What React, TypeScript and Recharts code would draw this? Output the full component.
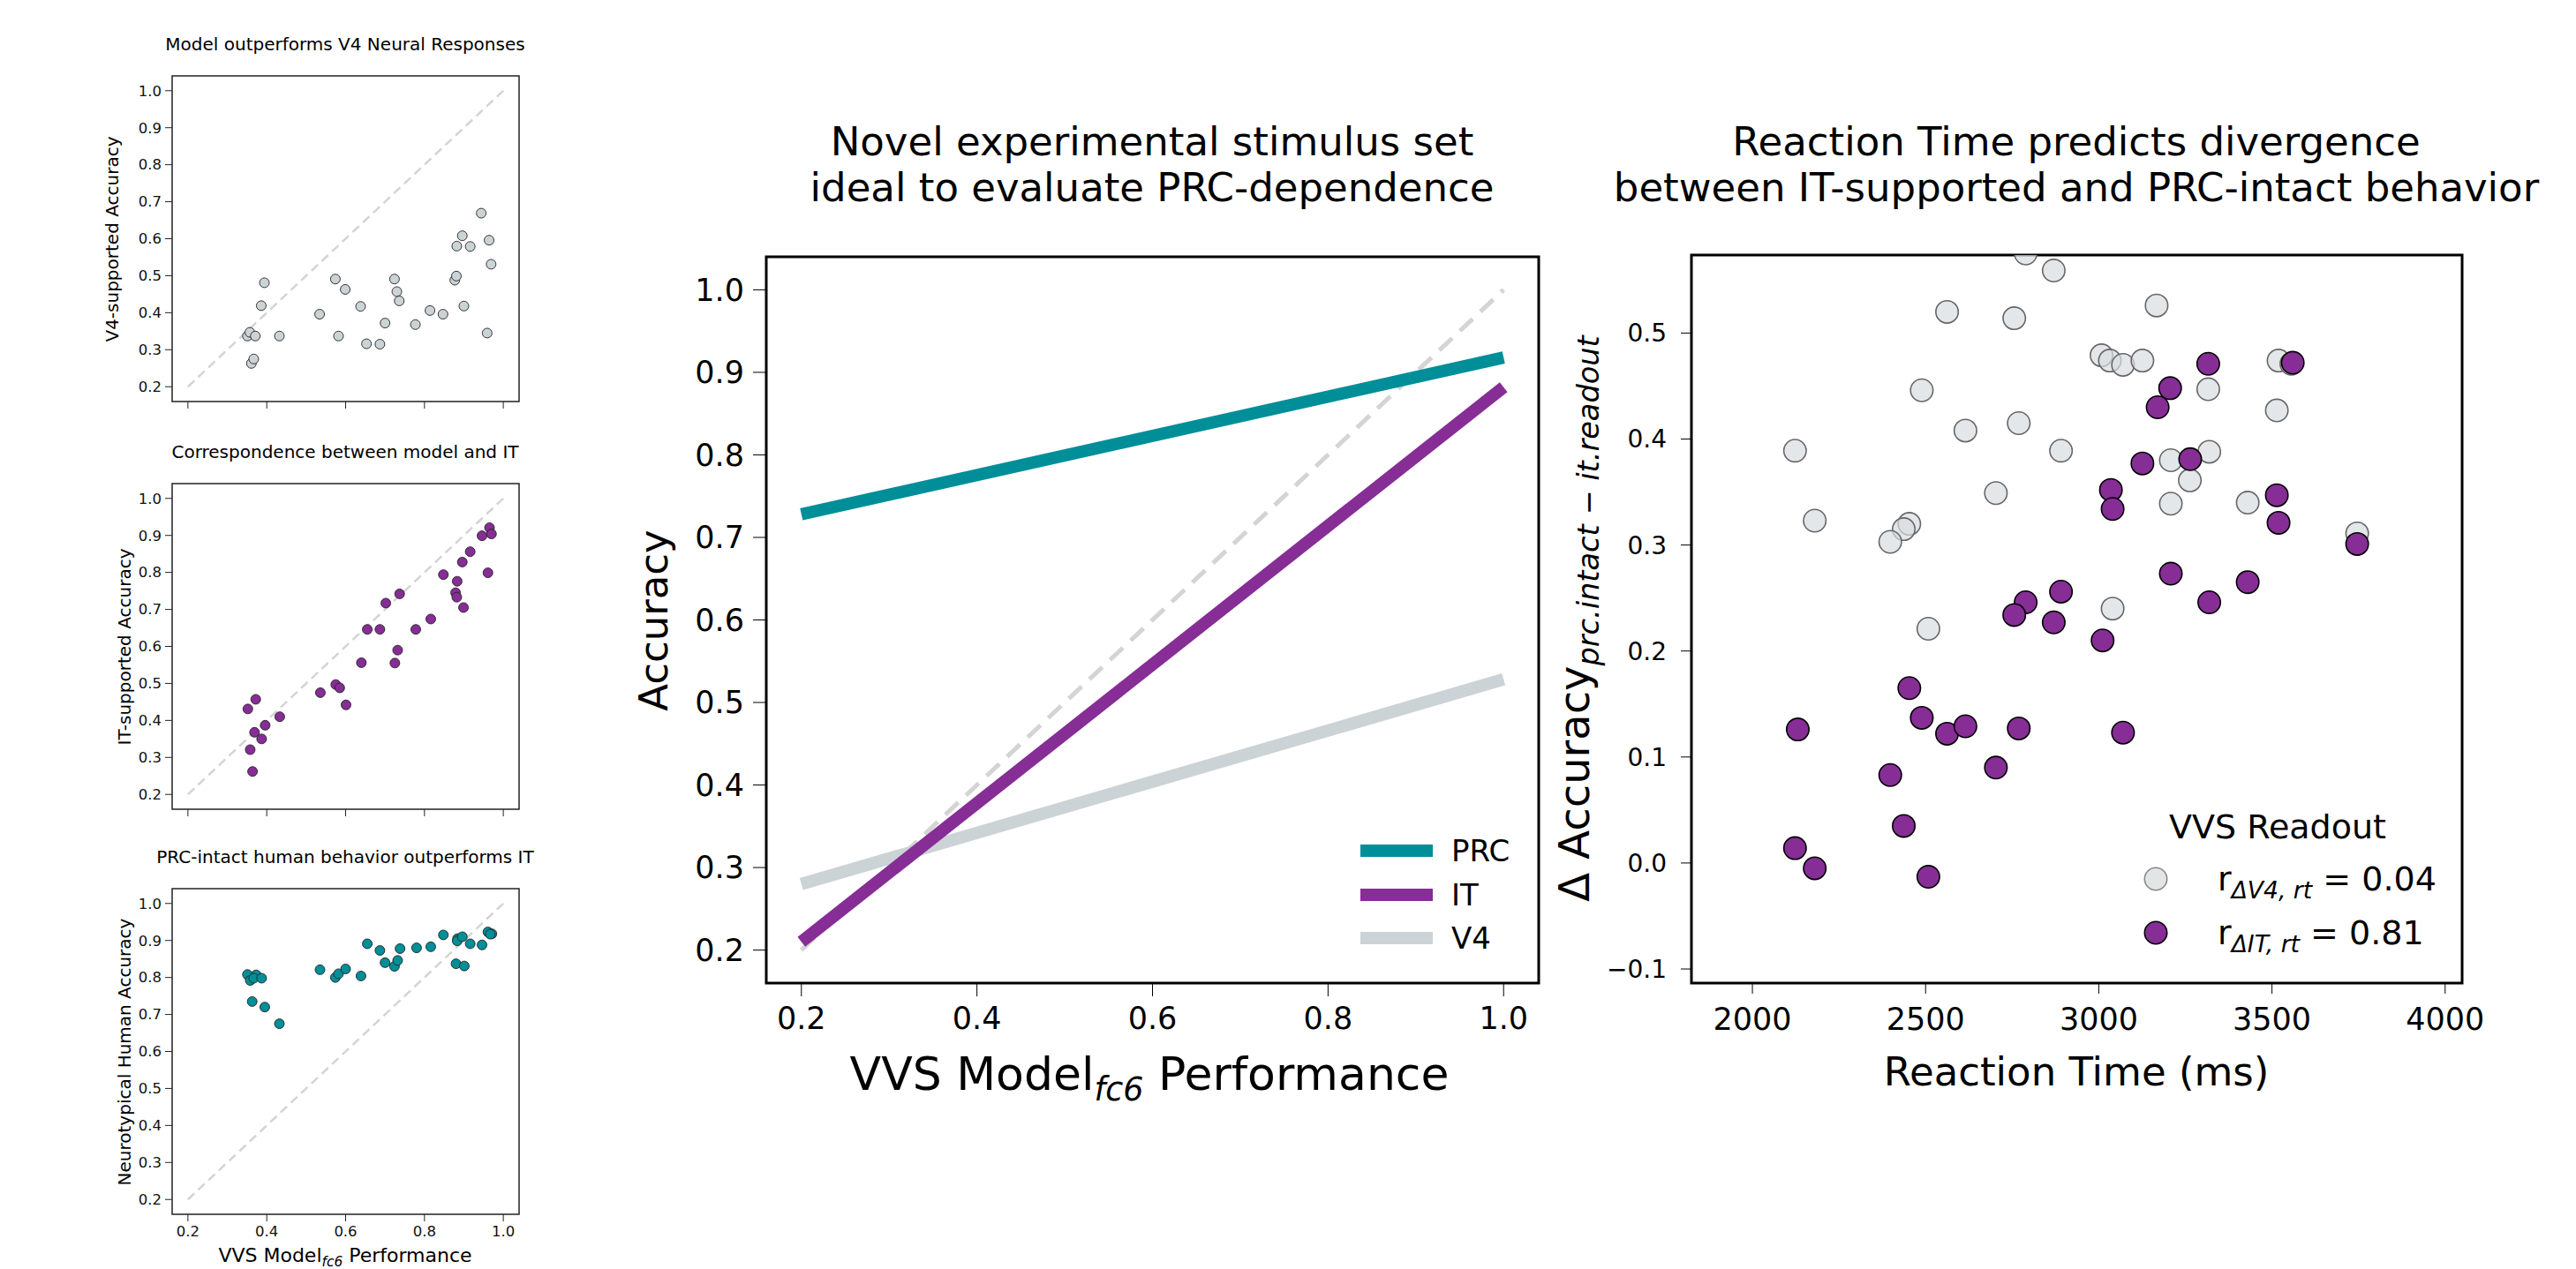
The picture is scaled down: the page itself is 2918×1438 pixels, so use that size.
import { ScatterChart, Scatter, LineChart, Line, XAxis, YAxis, ReferenceArea } from "recharts"

const FONT = "DejaVu Sans"

// left column: VVS model performance vs readout accuracy, one array pair per panel
const v4Perf = [0.351, 0.357, 0.371, 0.361, 0.367, 0.394, 0.386, 0.432, 0.534, 0.574, 0.582, 0.599, 0.638, 0.653, 0.687, 0.7, 0.724, 0.73, 0.736, 0.777, 0.814, 0.847, 0.877, 0.881, 0.882, 0.896, 0.9, 0.916, 0.944, 0.964, 0.969, 0.959]
const v4Acc = [0.337, 0.347, 0.337, 0.263, 0.275, 0.481, 0.419, 0.337, 0.396, 0.491, 0.337, 0.463, 0.417, 0.316, 0.315, 0.372, 0.491, 0.457, 0.432, 0.368, 0.406, 0.396, 0.488, 0.499, 0.58, 0.608, 0.418, 0.579, 0.669, 0.596, 0.531, 0.345]

const itPerf = [0.352, 0.372, 0.358, 0.364, 0.369, 0.387, 0.396, 0.433, 0.536, 0.575, 0.585, 0.601, 0.64, 0.655, 0.687, 0.702, 0.725, 0.732, 0.737, 0.778, 0.816, 0.848, 0.879, 0.882, 0.883, 0.899, 0.896, 0.916, 0.946, 0.965, 0.97, 0.961]
const itAcc = [0.431, 0.457, 0.321, 0.262, 0.368, 0.35, 0.387, 0.41, 0.475, 0.497, 0.488, 0.442, 0.556, 0.646, 0.646, 0.717, 0.555, 0.59, 0.742, 0.646, 0.674, 0.794, 0.745, 0.733, 0.776, 0.705, 0.828, 0.856, 0.899, 0.921, 0.904, 0.799]

const prcPerf = [0.351, 0.358, 0.373, 0.367, 0.387, 0.363, 0.395, 0.432, 0.535, 0.574, 0.582, 0.6, 0.639, 0.655, 0.687, 0.7, 0.724, 0.732, 0.738, 0.78, 0.816, 0.848, 0.88, 0.884, 0.883, 0.896, 0.901, 0.916, 0.946, 0.961, 0.971, 0.967]
const prcAcc = [0.808, 0.792, 0.807, 0.798, 0.798, 0.735, 0.72, 0.675, 0.821, 0.8, 0.81, 0.823, 0.804, 0.891, 0.873, 0.84, 0.83, 0.846, 0.878, 0.88, 0.883, 0.915, 0.837, 0.905, 0.899, 0.91, 0.831, 0.891, 0.888, 0.923, 0.918, 0.917]

// middle: fitted lines at the ends of the performance range
const fitX = [0.2, 1.0]
const prcFit = [0.728, 0.918]
const itFit = [0.21, 0.882]
const v4Fit = [0.28, 0.528]

// right: reaction time vs accuracy difference
const rtV4 = [2789, 2870, 2562, 2756, 3167, 3008, 3032, 3070, 3126, 3519, 3556, 2489, 3316, 3514, 2615, 2769, 2123, 2891, 3208, 3319, 3263, 2703, 3208, 3430, 2180, 2453, 2437, 2398, 3746, 3040, 2508]
const deltaV4 = [0.575, 0.559, 0.52, 0.514, 0.526, 0.479, 0.474, 0.47, 0.474, 0.474, 0.471, 0.446, 0.447, 0.427, 0.408, 0.415, 0.389, 0.389, 0.38, 0.388, 0.361, 0.349, 0.339, 0.34, 0.323, 0.32, 0.315, 0.303, 0.311, 0.24, 0.221]
const rtIT = [3316, 3560, 3206, 3170, 3126, 3264, 3035, 3040, 3514, 3519, 3746, 3208, 3430, 2891, 2789, 2756, 2870, 3319, 3011, 2453, 2489, 2562, 2615, 2769, 2131, 3070, 2703, 2398, 2437, 2123, 2180, 2508]
const deltaIT = [0.471, 0.472, 0.448, 0.43, 0.377, 0.381, 0.352, 0.334, 0.347, 0.321, 0.301, 0.273, 0.265, 0.256, 0.246, 0.234, 0.227, 0.246, 0.21, 0.165, 0.137, 0.122, 0.129, 0.127, 0.126, 0.123, 0.09, 0.083, 0.035, 0.014, -0.005, -0.013]

const accTicks = [0.2, 0.3, 0.4, 0.5, 0.6, 0.7, 0.8, 0.9, 1.0]
const perfTicks = [0.2, 0.4, 0.6, 0.8, 1.0]
const rtTicks = [2000, 2500, 3000, 3500, 4000]
const deltaTicks = [-0.1, 0, 0.1, 0.2, 0.3, 0.4, 0.5]

const PURPLE = "#862d96"
const TEAL = "#008e98"
const V4GRAY = "#cbd3d6"
const DIAG = "#d4d4d4"

const fmt1 = (v: number) => (v < 0 ? "\u2212" + Math.abs(v).toFixed(1) : v.toFixed(1))
const zip = (xs: number[], ys: number[]) => xs.map((x, i) => ({ x, y: ys[i] }))
const diagRows = zip(fitX, fitX)

const dot = (r: number, fill: string, stroke: string, sw: number, op = 1) => (p: any) => (
  <circle cx={p.cx} cy={p.cy} r={r} fill={fill} fillOpacity={op} stroke={stroke} strokeWidth={sw} />
)
const noShape = () => <g />

function Text({ x, y, size, rotate, children }: any) {
  return (
    <div
      style={{
        position: "absolute",
        left: x,
        top: y,
        transform: `translate(-50%, -50%)${rotate ? " rotate(-90deg)" : ""}`,
        fontSize: size,
        fontFamily: FONT,
        lineHeight: 1,
        whiteSpace: "nowrap",
        color: "#000",
      }}
    >
      {children}
    </div>
  )
}

const Sub = ({ children }: any) => (
  <span style={{ fontSize: "0.7em", fontStyle: "italic", position: "relative", top: "0.32em" }}>{children}</span>
)

function SmallPanel({ top, xs, ys, color, title, yLabel, labelX, showX }: any) {
  const YW = 70
  const PT = 10
  const PR = 20
  const XH = 40
  const W = 393
  const H = 369
  return (
    <>
      <div style={{ position: "absolute", left: 195 - YW, top: top - PT }}>
        <ScatterChart width={W + YW + PR} height={H + PT + XH} margin={{ top: PT, right: PR, left: 0, bottom: 0 }}>
          <XAxis type="number" dataKey="x" domain={[0.16, 1.04]} allowDataOverflow ticks={perfTicks} interval={0}
            height={XH} axisLine={false} stroke="#222" tickSize={8} tickMargin={5}
            tick={{ fontSize: 16.5, fill: "#111", fontFamily: FONT }} tickFormatter={showX ? fmt1 : () => ""} />
          <YAxis type="number" dataKey="y" domain={[0.16, 1.04]} allowDataOverflow ticks={accTicks} interval={0}
            width={YW} axisLine={false} stroke="#222" tickSize={8} tickMargin={4}
            tick={{ fontSize: 16.5, fill: "#111", fontFamily: FONT }} tickFormatter={fmt1} />
          <ReferenceArea x1={0.16} x2={1.04} y1={0.16} y2={1.04} fill="none" stroke="#222" strokeWidth={1.5} fillOpacity={0} />
          <Scatter data={diagRows} shape={noShape} line={{ stroke: DIAG, strokeWidth: 2.5, strokeDasharray: "10 6" }} isAnimationActive={false} />
          <Scatter data={zip(xs, ys)} shape={dot(5.5, color, "#222", 0.9)} isAnimationActive={false} />
        </ScatterChart>
      </div>
      <Text x={391} y={top - 36} size={20}>{title}</Text>
      <Text x={labelX} y={top + H / 2} size={20} rotate>{yLabel}</Text>
    </>
  )
}

function MiddlePanel() {
  const L = 868, T = 291, W = 875, H = 823
  const YW = 110, PT = 10, PR = 20, XH = 70
  const rows = fitX.map((x, i) => ({ x, diag: x, prc: prcFit[i], it: itFit[i], v4: v4Fit[i] }))
  const legend = [
    { name: "PRC", color: TEAL, y: 964 },
    { name: "IT", color: PURPLE, y: 1014 },
    { name: "V4", color: V4GRAY, y: 1063 },
  ]
  return (
    <>
      <div style={{ position: "absolute", left: L - YW, top: T - PT }}>
        <LineChart width={W + YW + PR} height={H + PT + XH} data={rows} margin={{ top: PT, right: PR, left: 0, bottom: 0 }}>
          <XAxis type="number" dataKey="x" domain={[0.16, 1.04]} allowDataOverflow ticks={perfTicks} interval={0}
            height={XH} axisLine={false} stroke="#000" tickSize={15} tickMargin={12}
            tick={{ fontSize: 35, fill: "#000", fontFamily: FONT }} tickFormatter={fmt1} />
          <YAxis type="number" domain={[0.16, 1.04]} allowDataOverflow ticks={accTicks} interval={0}
            width={YW} axisLine={false} stroke="#000" tickSize={15} tickMargin={10}
            tick={{ fontSize: 35, fill: "#000", fontFamily: FONT }} tickFormatter={fmt1} />
          <ReferenceArea x1={0.16} x2={1.04} y1={0.16} y2={1.04} fill="none" fillOpacity={0} stroke="#000" strokeWidth={3} />
          <Line dataKey="diag" stroke={DIAG} strokeWidth={5} strokeDasharray="20 12" dot={false} isAnimationActive={false} />
          <Line dataKey="v4" stroke={V4GRAY} strokeWidth={14} dot={false} isAnimationActive={false} />
          <Line dataKey="it" stroke={PURPLE} strokeWidth={14} dot={false} isAnimationActive={false} />
          <Line dataKey="prc" stroke={TEAL} strokeWidth={14} dot={false} isAnimationActive={false} />
        </LineChart>
      </div>
      <Text x={1305} y={160} size={45}>Novel experimental stimulus set</Text>
      <Text x={1305} y={212} size={45}>ideal to evaluate PRC-dependence</Text>
      <Text x={740} y={703} size={45} rotate>Accuracy</Text>
      <Text x={1302} y={1217} size={52}>VVS Model<Sub>fc6</Sub> Performance</Text>
      {legend.map((e) => (
        <div key={e.name}>
          <div style={{ position: "absolute", left: 1541, top: e.y - 7, width: 82, height: 14, background: e.color }} />
          <div style={{ position: "absolute", left: 1644, top: e.y, transform: "translateY(-50%)", fontSize: 34, fontFamily: FONT, lineHeight: 1 }}>{e.name}</div>
        </div>
      ))}
    </>
  )
}

function RightPanel() {
  const L = 1916, T = 289, W = 873, H = 825
  const YW = 100, PT = 10, PR = 70, XH = 70
  const items = [
    { sub: "\u0394V4, rt", val: "0.04", fill: "#e2e5e6", stroke: "#888", y: 996 },
    { sub: "\u0394IT, rt", val: "0.81", fill: PURPLE, stroke: "#000", y: 1057 },
  ]
  return (
    <>
      <div style={{ position: "absolute", left: L - YW, top: T - PT }}>
        <ScatterChart width={W + YW + PR} height={H + PT + XH} margin={{ top: PT, right: PR, left: 0, bottom: 0 }}>
          <XAxis type="number" dataKey="x" domain={[1824, 4049]} allowDataOverflow ticks={rtTicks} interval={0}
            height={XH} axisLine={false} stroke="#000" tickSize={12} tickMargin={16}
            tick={{ fontSize: 35, fill: "#000", fontFamily: FONT }} />
          <YAxis type="number" dataKey="y" domain={[-0.1133, 0.5736]} allowDataOverflow ticks={deltaTicks} interval={0}
            width={YW} axisLine={false} stroke="#000" tickSize={12} tickMargin={16}
            tick={{ fontSize: 28, fill: "#000", fontFamily: FONT }} tickFormatter={fmt1} />
          <ReferenceArea x1={1824} x2={4049} y1={-0.1133} y2={0.5736} fill="none" fillOpacity={0} stroke="#000" strokeWidth={3} />
          <Scatter data={zip(rtV4, deltaV4)} shape={dot(12.7, "#d9dddf", "#666", 1.6, 0.7)} isAnimationActive={false} />
          <Scatter data={zip(rtIT, deltaIT)} shape={dot(12.7, PURPLE, "#000", 1.6)} isAnimationActive={false} />
        </ScatterChart>
      </div>
      <Text x={2352} y={160} size={45}>Reaction Time predicts divergence</Text>
      <Text x={2352} y={212} size={45}>between IT-supported and PRC-intact behavior</Text>
      <Text x={1783} y={701} size={48} rotate>
        {"\u0394 Accuracy"}<Sub>{"prc.intact \u2212 it.readout"}</Sub>
      </Text>
      <Text x={2352} y={1214} size={45}>Reaction Time (ms)</Text>
      <Text x={2580} y={937} size={38}>VVS Readout</Text>
      {items.map((e) => (
        <div key={e.sub}>
          <svg style={{ position: "absolute", left: 2442 - 15, top: e.y - 15 }} width={30} height={30}>
            <circle cx={15} cy={15} r={12.7} fill={e.fill} stroke={e.stroke} strokeWidth={1.6} />
          </svg>
          <div style={{ position: "absolute", left: 2512, top: e.y, transform: "translateY(-50%)", fontSize: 38, fontFamily: FONT, lineHeight: 1, whiteSpace: "nowrap" }}>
            r<Sub>{e.sub}</Sub> = {e.val}
          </div>
        </div>
      ))}
    </>
  )
}

export default function App() {
  return (
    <div style={{ position: "relative", width: 2918, height: 1438, background: "#fff", overflow: "hidden" }}>
      <style>{"body{margin:0}"}</style>
      <SmallPanel top={86} xs={v4Perf} ys={v4Acc} color={V4GRAY} title="Model outperforms V4 Neural Responses" yLabel="V4-supported Accuracy" labelX={127} showX={false} />
      <SmallPanel top={548} xs={itPerf} ys={itAcc} color={PURPLE} title="Correspondence between model and IT" yLabel="IT-supported Accuracy" labelX={141} showX={false} />
      <SmallPanel top={1007} xs={prcPerf} ys={prcAcc} color={TEAL} title="PRC-intact human behavior outperforms IT" yLabel="Neurotypical Human Accuracy" labelX={141} showX />
      <Text x={391} y={1423} size={22}>VVS Model<Sub>fc6</Sub> Performance</Text>
      <MiddlePanel />
      <RightPanel />
    </div>
  )
}
